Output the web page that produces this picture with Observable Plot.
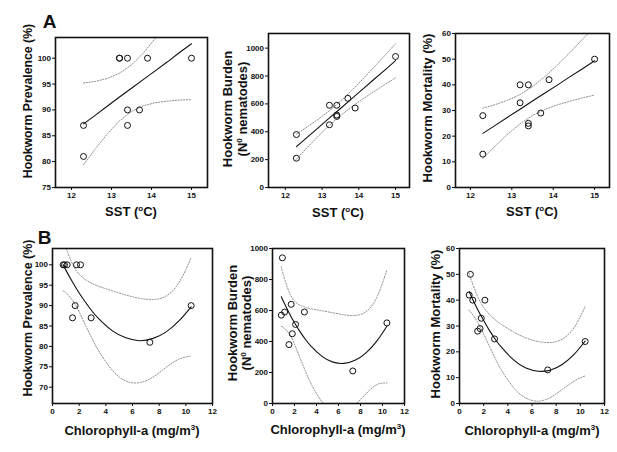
<!DOCTYPE html>
<html><head><meta charset="utf-8">
<script src="https://cdn.jsdelivr.net/npm/d3@7"></script>
<script src="https://cdn.jsdelivr.net/npm/@observablehq/plot@0.6"></script>
<style>
body{margin:0;background:#fff;}
#wrap{position:relative;width:617px;height:452px;overflow:hidden;font-family:"Liberation Sans",Arial,sans-serif;color:#111;}
#wrap svg{position:absolute;}
.lab{position:absolute;font-weight:bold;white-space:nowrap;transform:translate(-50%,-50%);line-height:1;}
.rot{transform:translate(-50%,-50%) rotate(-90deg);}
sup{font-size:0.62em;vertical-align:0.55em;line-height:0;}
</style></head>
<body><div id="wrap"></div>
<script>
// ---- site data (10 sites) ----
const sst        = [15.0, 12.3, 12.3, 13.7, 13.9, 13.2, 13.4, 13.2, 13.4, 13.4];
const chlorophyll= [0.9, 7.3, 1.5, 1.7, 0.8, 1.1, 2.9, 1.8, 2.1, 10.4];
const prevalence = [100, 81, 87, 90, 100, 100, 87, 100, 100, 90];
const burden     = [940, 210, 380, 640, 570, 590, 590, 450, 510, 520];
const mortality  = [50, 13, 28, 29, 42, 40, 25, 33, 40, 24];

// ---- fitted lines and 95% bands (row A: vs SST) ----
const sstGrid   = [12.3, 12.6, 12.9, 13.2, 13.5, 13.8, 14.1, 14.4, 14.7, 15.0];
const prevFit   = [87.3, 89.0, 90.75, 92.5, 94.2, 95.9, 97.6, 99.3, 101.1, 102.8];
const prevUp    = [95.2, 95.5, 96.1, 97.1, 98.7, 101.0, 103.9, 107.0, 110.2, 113.6];
const prevLo    = [79.4, 82.5, 85.4, 87.9, 89.7, 90.8, 91.4, 91.7, 91.9, 92.0];
const burdFit   = [293, 362, 430, 499, 567, 636, 704, 773, 841, 910];
const burdUp    = [383, 436, 491, 551, 619, 694, 775, 860, 945, 1032];
const burdLo    = [203, 288, 370, 447, 516, 578, 634, 686, 737, 787];
const mortFit   = [21.1, 24.2, 27.4, 30.5, 33.7, 36.8, 39.9, 43.1, 46.2, 49.4];
const mortUp    = [30.9, 32.3, 34.0, 36.2, 39.3, 43.2, 47.7, 52.5, 57.6, 62.7];
const mortLo    = [11.3, 16.2, 20.8, 24.8, 28.1, 30.4, 32.2, 33.6, 34.9, 36.0];

// ---- row B: vs chlorophyll-a ----
const chlGrid   = [0.8, 1.0, 1.5, 2.0, 2.5, 3.0, 3.5, 4.5, 5.5, 6.5, 7.5, 8.5, 9.5, 10.4];
const prevQFit  = [100.0, 98.7, 95.8, 93.1, 90.7, 88.5, 86.7, 83.8, 82.1, 81.4, 81.9, 83.5, 86.3, 89.7];
const prevQUp   = [106.4, 104.3, 100.2, 97.7, 96.3, 95.4, 94.7, 93.6, 92.6, 91.8, 91.5, 92.3, 95.7, 101.8];
const prevQLo   = [93.6, 93.2, 91.3, 88.5, 85.0, 81.7, 78.7, 74.1, 71.5, 71.1, 72.4, 74.8, 76.9, 77.6];
const burdQFit  = [689, 658, 586, 521, 464, 413, 370, 304, 267, 259, 279, 327, 404, 498];
const burdQUp   = [881, 827, 721, 661, 634, 620, 611, 598, 585, 572, 568, 592, 687, 863];
const burdQLo   = [497, 490, 452, 382, 294, 207, 128, 11, -50, -54, -10, 63, 122, 132];
const mortQFit  = [43.3, 41.2, 36.4, 32.1, 28.1, 24.6, 21.6, 16.8, 13.7, 12.5, 12.9, 15.1, 19.1, 24.2];
const mortQUp   = [50.4, 47.5, 41.4, 37.2, 34.4, 32.2, 30.5, 27.6, 25.4, 24.0, 23.6, 24.9, 29.5, 37.6];
const mortQLo   = [36.2, 35.0, 31.5, 26.9, 21.9, 17.0, 12.7, 6.0, 2.1, 0.9, 2.3, 5.4, 8.7, 10.7];

// ---- tick values ----
const sstTicks  = [12, 13, 14, 15];
const chlTicks  = [0, 2, 4, 6, 8, 10, 12];
const prevTicksA= [75, 80, 85, 90, 95, 100];
const prevTicksB= [70, 75, 80, 85, 90, 95, 100];
const burdTicks = [0, 200, 400, 600, 800, 1000];
const mortTicks = [0, 10, 20, 30, 40, 50, 60];

// ---- layout ----
const ML = 30, MR = 6, MT = 6, MB = 16;
const wrap = document.getElementById("wrap");
const fmt = d3.format("d");

function panel(c){
  const pts = c.xs.map((x,i)=>({x, y:c.ys[i]}));
  const crv = v => c.gx.map((x,i)=>({x, y:v[i]}));
  const svg = Plot.plot({
    width: c.box[2]+ML+MR, height: c.box[3]+MT+MB,
    marginLeft: ML, marginRight: MR, marginTop: MT, marginBottom: MB,
    style:{fontFamily:"Liberation Sans, Arial, sans-serif", fontSize:"8px", fontWeight:"bold", background:"transparent", color:"#111", overflow:"visible"},
    x:{domain:c.xDomain}, y:{domain:c.yDomain},
    marks:[
      Plot.line(crv(c.up), {x:"x", y:"y", stroke:"#8c8c8c", strokeWidth:1, strokeDasharray:"1.2,1.6", curve:c.curve, clip:true}),
      Plot.line(crv(c.lo), {x:"x", y:"y", stroke:"#8c8c8c", strokeWidth:1, strokeDasharray:"1.2,1.6", curve:c.curve, clip:true}),
      Plot.line(crv(c.fit), {x:"x", y:"y", stroke:"#111", strokeWidth:1.1, curve:c.curve, clip:true}),
      Plot.dot(pts, {x:"x", y:"y", r:3, stroke:"#111", strokeWidth:1, fill:"none"}),
      Plot.axisX(c.xTicks, {tickSize:3, tickPadding:1.5, label:null, tickFormat:fmt}),
      Plot.axisY(c.yTicks, {tickSize:3, tickPadding:1.5, label:null, tickFormat:fmt}),
      Plot.frame({stroke:"#111", strokeWidth:1.6})
    ]
  });
  svg.style.left = (c.box[0]-ML)+"px";
  svg.style.top = (c.box[1]-MT)+"px";
  wrap.appendChild(svg);
}

function label(html, x, y, size, rot){
  const d = document.createElement("div");
  d.className = "lab" + (rot ? " rot" : "");
  d.style.left = x+"px"; d.style.top = y+"px"; d.style.fontSize = size+"px";
  d.innerHTML = html;
  wrap.appendChild(d);
}

panel({box:[55,37,152,150], xs:sst, ys:prevalence, gx:sstGrid, fit:prevFit, up:prevUp, lo:prevLo, curve:"linear",
  xDomain:[11.6,15.4], yDomain:[75,104], xTicks:sstTicks, yTicks:prevTicksA});
panel({box:[268,33,141,154], xs:sst, ys:burden, gx:sstGrid, fit:burdFit, up:burdUp, lo:burdLo, curve:"linear",
  xDomain:[11.54,15.38], yDomain:[0,1105], xTicks:sstTicks, yTicks:burdTicks});
panel({box:[455,33,154,154], xs:sst, ys:mortality, gx:sstGrid, fit:mortFit, up:mortUp, lo:mortLo, curve:"linear",
  xDomain:[11.64,15.36], yDomain:[0,60], xTicks:sstTicks, yTicks:mortTicks});
panel({box:[52,248,160,155], xs:chlorophyll, ys:prevalence, gx:chlGrid, fit:prevQFit, up:prevQUp, lo:prevQLo, curve:"natural",
  xDomain:[0,12], yDomain:[66,104], xTicks:chlTicks, yTicks:prevTicksB});
panel({box:[272,248,132,155], xs:chlorophyll, ys:burden, gx:chlGrid, fit:burdQFit, up:burdQUp, lo:burdQLo, curve:"natural",
  xDomain:[0,12], yDomain:[0,1000], xTicks:chlTicks, yTicks:burdTicks});
panel({box:[459,248,145,155], xs:chlorophyll, ys:mortality, gx:chlGrid, fit:mortQFit, up:mortQUp, lo:mortQLo, curve:"natural",
  xDomain:[0,12], yDomain:[0,60], xTicks:chlTicks, yTicks:mortTicks});

// panel letters
label("A", 49.5, 21, 19, false);
label("B", 44.5, 236.5, 19, false);
// y titles
label("Hookworm Prevalence (%)", 28, 101, 12.3, true);
label("Hookworm Burden", 227, 109, 13, true);
label("(N<sup>0</sup> nematodes)", 242, 109, 13, true);
label("Hookworm Mortality (%)", 427, 108, 13, true);
label("Hookworm Prevalence (%)", 28, 318, 12.5, true);
label("Hookworm Burden", 232, 323, 13, true);
label("(N<sup>0</sup> nematodes)", 245.5, 323, 13, true);
label("Hookworm Mortality (%)", 435, 324, 13, true);
// x titles
label("SST (<sup>o</sup>C)", 131, 211, 13, false);
label("SST (<sup>o</sup>C)", 338, 212, 13, false);
label("SST (<sup>o</sup>C)", 532, 211, 13, false);
label("Chlorophyll-a (mg/m<sup>3</sup>)", 132, 430, 13, false);
label("Chlorophyll-a (mg/m<sup>3</sup>)", 338, 429, 13, false);
label("Chlorophyll-a (mg/m<sup>3</sup>)", 532, 430, 13, false);
</script>
</body></html>
